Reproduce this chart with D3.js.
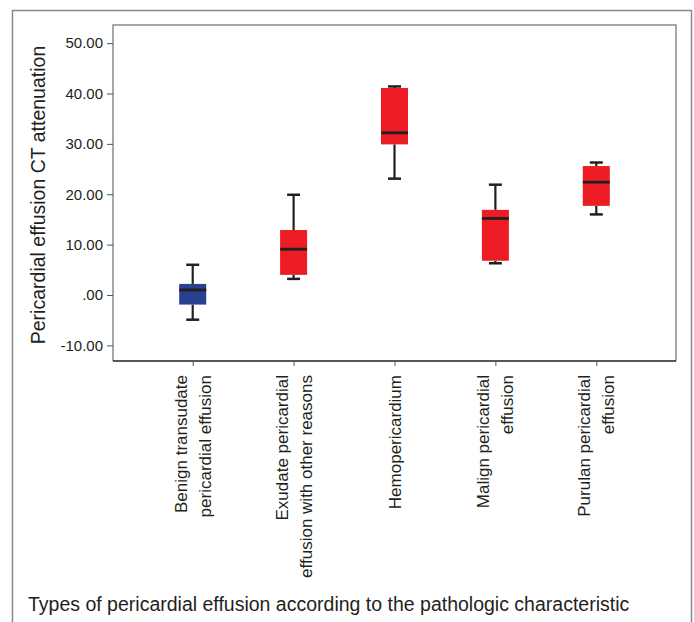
<!DOCTYPE html>
<html>
<head>
<meta charset="utf-8">
<script src="https://cdn.jsdelivr.net/npm/d3@7"></script>
<style>
  body { margin: 0; background: #fff; }
  text { font-family: "Liberation Sans", Arial, sans-serif; fill: #231f20; }
</style>
</head>
<body>
<div id="chart"></div>
<script>
// chart data
const categories = ['benign', 'exudate', 'hemo', 'malign', 'purulan'];
const categoryLabels = [
  ['Benign transudate', 'pericardial effusion'],
  ['Exudate pericardial', 'effusion with other reasons'],
  ['Hemopericardium'],
  ['Malign pericardial', 'effusion'],
  ['Purulan pericardial', 'effusion']
];
const whiskerLow = [-4.9, 3.2, 23.1, 6.3, 16.0];
const q1 = [-1.9, 4.0, 29.9, 6.8, 17.7];
const medians = [1.0, 9.1, 32.2, 15.2, 22.4];
const q3 = [2.2, 12.9, 41.1, 16.9, 25.6];
const whiskerHigh = [6.0, 19.9, 41.4, 21.9, 26.3];
const yTicks = [-10, 0, 10, 20, 30, 40, 50];

const svgWidth = 694;
const svgHeight = 622;
const frame = { left: 113, top: 25, right: 676, bottom: 361 };

const svg = d3.select('#chart')
  .append('svg')
  .attr('width', svgWidth)
  .attr('height', svgHeight);

// outer border (bottom edge runs off the picture)
svg.append('rect')
  .attr('x', 12.5)
  .attr('y', 10.5)
  .attr('width', 679)
  .attr('height', 640)
  .attr('fill', 'none')
  .attr('stroke', '#8a8a8a')
  .attr('stroke-width', 1.5);

const xScale = d3.scalePoint()
  .domain(categories)
  .range([frame.left, frame.right])
  .padding(0.79);

const yScale = d3.scaleLinear()
  .domain([-13.1, 53.6])
  .range([frame.bottom, frame.top]);

// inner frame
svg.append('path')
  .attr('d', `M${frame.left},${frame.bottom}V${frame.top}H${frame.right}V${frame.bottom}`)
  .attr('fill', 'none')
  .attr('stroke', '#8a8a8a')
  .attr('stroke-width', 1.5);

// y axis
const leftAxis = d3.axisLeft(yScale)
  .tickValues(yTicks)
  .tickSize(6)
  .tickPadding(4)
  .tickFormat(d => d === 0 ? '.00' : d.toFixed(2));

const yAxis = svg.append('g')
  .attr('transform', `translate(${frame.left}, 0)`)
  .call(leftAxis);
yAxis.select('.domain').remove();
yAxis.selectAll('line').attr('stroke', '#555');
yAxis.selectAll('text')
  .attr('font-size', '15px')
  .attr('font-family', '"Liberation Sans", Arial, sans-serif')
  .attr('fill', '#231f20');

// x axis
const bottomAxis = d3.axisBottom(xScale)
  .tickSize(5)
  .tickFormat('');

const xAxis = svg.append('g')
  .attr('transform', `translate(0, ${frame.bottom})`)
  .call(bottomAxis);
xAxis.select('.domain')
  .attr('d', `M${frame.left},0H${frame.right}`)
  .attr('stroke', '#231f20')
  .attr('stroke-width', 1.5);
xAxis.selectAll('line').attr('stroke', '#555');

// category labels, rotated
const lineGap = 24;
categories.forEach((c, i) => {
  const lines = categoryLabels[i];
  const offset = -(lines.length - 1) * lineGap / 2;
  lines.forEach((line, j) => {
    const x = xScale(c) + offset + j * lineGap + 6;
    svg.append('text')
      .attr('transform', `translate(${x}, ${frame.bottom + 14}) rotate(-90)`)
      .attr('text-anchor', 'end')
      .attr('font-size', '17px')
      .text(line);
  });
});

// boxes
const boxWidth = 27;
const capWidth = 13;
const boxColor = i => i === 0 ? '#27408f' : '#ed1c24';
const ink = '#231f20';

const boxes = svg.append('g');
categories.forEach((c, i) => {
  const cx = xScale(c);
  const g = boxes.append('g');
  // whiskers
  g.append('line')
    .attr('x1', cx).attr('x2', cx)
    .attr('y1', yScale(whiskerHigh[i])).attr('y2', yScale(q3[i]))
    .attr('stroke', ink).attr('stroke-width', 2.2);
  g.append('line')
    .attr('x1', cx).attr('x2', cx)
    .attr('y1', yScale(q1[i])).attr('y2', yScale(whiskerLow[i]))
    .attr('stroke', ink).attr('stroke-width', 2.2);
  [whiskerHigh[i], whiskerLow[i]].forEach(v => {
    g.append('line')
      .attr('x1', cx - capWidth / 2).attr('x2', cx + capWidth / 2)
      .attr('y1', yScale(v)).attr('y2', yScale(v))
      .attr('stroke', ink).attr('stroke-width', 2.5);
  });
  // box
  g.append('rect')
    .attr('x', cx - boxWidth / 2)
    .attr('y', yScale(q3[i]))
    .attr('width', boxWidth)
    .attr('height', yScale(q1[i]) - yScale(q3[i]))
    .attr('fill', boxColor(i));
  // median
  g.append('line')
    .attr('x1', cx - boxWidth / 2).attr('x2', cx + boxWidth / 2)
    .attr('y1', yScale(medians[i])).attr('y2', yScale(medians[i]))
    .attr('stroke', ink).attr('stroke-width', 2.8);
});

// axis titles
svg.append('text')
  .attr('transform', `translate(45, ${(frame.top + frame.bottom) / 2 + 2}) rotate(-90)`)
  .attr('text-anchor', 'middle')
  .attr('font-size', '19.5px')
  .text('Pericardial effusion CT attenuation');

svg.append('text')
  .attr('x', 28)
  .attr('y', 611)
  .attr('font-size', '19.5px')
  .text('Types of pericardial effusion according to the pathologic characteristic');
</script>
</body>
</html>
